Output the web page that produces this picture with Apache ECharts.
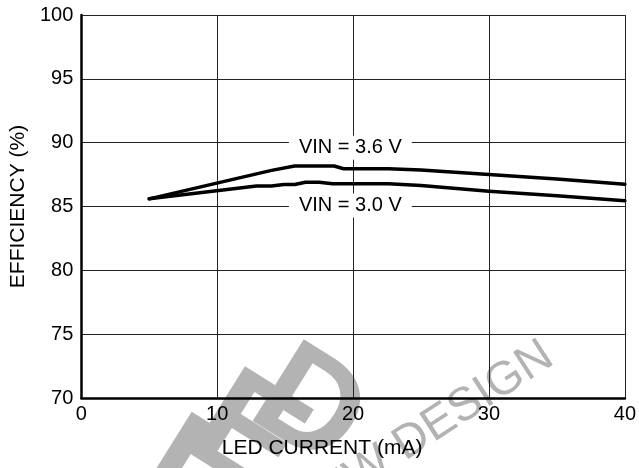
<!DOCTYPE html>
<html>
<head>
<meta charset="utf-8">
<script src="https://cdn.jsdelivr.net/npm/echarts@6/dist/echarts.min.js"></script>
<style>
html,body{margin:0;padding:0;background:#fff;}
#chart{width:639px;height:468px;}
</style>
</head>
<body>
<div id="chart"></div>
<script>
// LED current (mA) and efficiency (%) for VIN = 3.6 V
const current36 = [5, 14.0, 15.7, 18.6, 19.3, 22.6, 25, 30, 35, 40];
const eff36 = [85.6, 87.83, 88.17, 88.17, 87.96, 87.96, 87.85, 87.5, 87.15, 86.75];
// LED current (mA) and efficiency (%) for VIN = 3.0 V
const current30 = [5, 12.9, 14.0, 14.9, 15.7, 16.5, 17.5, 18.5, 22.6, 25, 30, 35, 40];
const eff30 = [85.6, 86.6, 86.6, 86.73, 86.73, 86.9, 86.9, 86.78, 86.78, 86.65, 86.2, 85.85, 85.45];
// curve labels and their anchor (x in mA, y in %)
const seriesNames = ['VIN = 3.6 V', 'VIN = 3.0 V'];
const labelX = [19.8, 19.8];
const labelY = [89.6, 85.08];
// axes
const xTicks = [0, 10, 20, 30, 40];
const yTicks = [70, 75, 80, 85, 90, 95, 100];
const xTitle = 'LED CURRENT (mA)';
const yTitle = 'EFFICIENCY (%)';

const FONT = '"Liberation Sans", Arial, Helvetica, sans-serif';
const wm = '#b3b3b3';
const deg = Math.PI / 180;

function pairs(xs, ys) { return xs.map((x, i) => [x, ys[i]]); }

const chart = echarts.init(document.getElementById('chart'), null, {renderer: 'canvas'});
chart.setOption({
  animation: false,
  backgroundColor: '#fff',
  grid: {left: 80, right: 11, top: 15, bottom: 70, containLabel: false},
  xAxis: {
    type: 'value', min: xTicks[0], max: xTicks[xTicks.length - 1], interval: 10,
    name: xTitle, nameLocation: 'middle', nameGap: 40,
    nameTextStyle: {fontFamily: FONT, fontSize: 21, color: '#000', padding: [0, 62, 0, 0]},
    axisLine: {show: true, onZero: false, lineStyle: {color: '#000', width: 2.5}},
    axisTick: {show: false},
    axisLabel: {fontFamily: FONT, fontSize: 20, color: '#000', margin: 6},
    splitLine: {show: true, lineStyle: {color: '#222', width: 1}}
  },
  yAxis: {
    type: 'value', min: yTicks[0], max: yTicks[yTicks.length - 1], interval: 5,
    name: yTitle, nameLocation: 'middle', nameGap: 51, nameRotate: 90,
    nameTextStyle: {fontFamily: FONT, fontSize: 21, color: '#000'},
    axisLine: {show: true, onZero: false, lineStyle: {color: '#000', width: 2.5}},
    axisTick: {show: false},
    axisLabel: {fontFamily: FONT, fontSize: 20, color: '#000', margin: 8},
    splitLine: {show: true, lineStyle: {color: '#222', width: 1}}
  },
  graphic: {
    elements: [
      {type: 'text', x: 168, y: 470, rotation: -32 * deg, z: -10, silent: true,
       style: {text: 'I', font: 'bold 150px ' + FONT, fill: wm, align: 'center', verticalAlign: 'middle', textAlign: 'center', textVerticalAlign: 'middle'}},
      {type: 'text', x: 246, y: 440, rotation: -32 * deg, z: -10, silent: true,
       style: {text: 'E', font: 'bold 150px ' + FONT, fill: wm, align: 'center', verticalAlign: 'middle', textAlign: 'center', textVerticalAlign: 'middle'}},
      {type: 'text', x: 308, y: 410, rotation: -32 * deg, z: -10, silent: true,
       style: {text: 'D', font: 'bold 140px ' + FONT, fill: wm, align: 'center', verticalAlign: 'middle', textAlign: 'center', textVerticalAlign: 'middle'}},
      {type: 'text', x: 549, y: 352, rotation: 33 * deg, z: -10, silent: true,
       style: {text: 'NEW DESIGN', font: '47px ' + FONT, fill: wm, align: 'right', verticalAlign: 'middle', textAlign: 'right', textVerticalAlign: 'middle'}}
    ]
  },
  series: [
    {
      name: seriesNames[0], type: 'line', data: pairs(current36, eff36),
      showSymbol: false, symbol: 'none', smooth: false,
      lineStyle: {color: '#000', width: 3.5, join: 'round', cap: 'round'},
      markPoint: {
        symbol: 'circle', symbolSize: 0, silent: true,
        label: {show: true, position: 'inside', formatter: '{b}', fontFamily: FONT, fontSize: 20, color: '#000',
                backgroundColor: '#fff', padding: [2, 10]},
        data: [{name: seriesNames[0], coord: [labelX[0], labelY[0]]}]
      }
    },
    {
      name: seriesNames[1], type: 'line', data: pairs(current30, eff30),
      showSymbol: false, symbol: 'none', smooth: false,
      lineStyle: {color: '#000', width: 3.5, join: 'round', cap: 'round'},
      markPoint: {
        symbol: 'circle', symbolSize: 0, silent: true,
        label: {show: true, position: 'inside', formatter: '{b}', fontFamily: FONT, fontSize: 20, color: '#000',
                backgroundColor: '#fff', padding: [2, 10]},
        data: [{name: seriesNames[1], coord: [labelX[1], labelY[1]]}]
      }
    }
  ]
});
</script>
</body>
</html>
